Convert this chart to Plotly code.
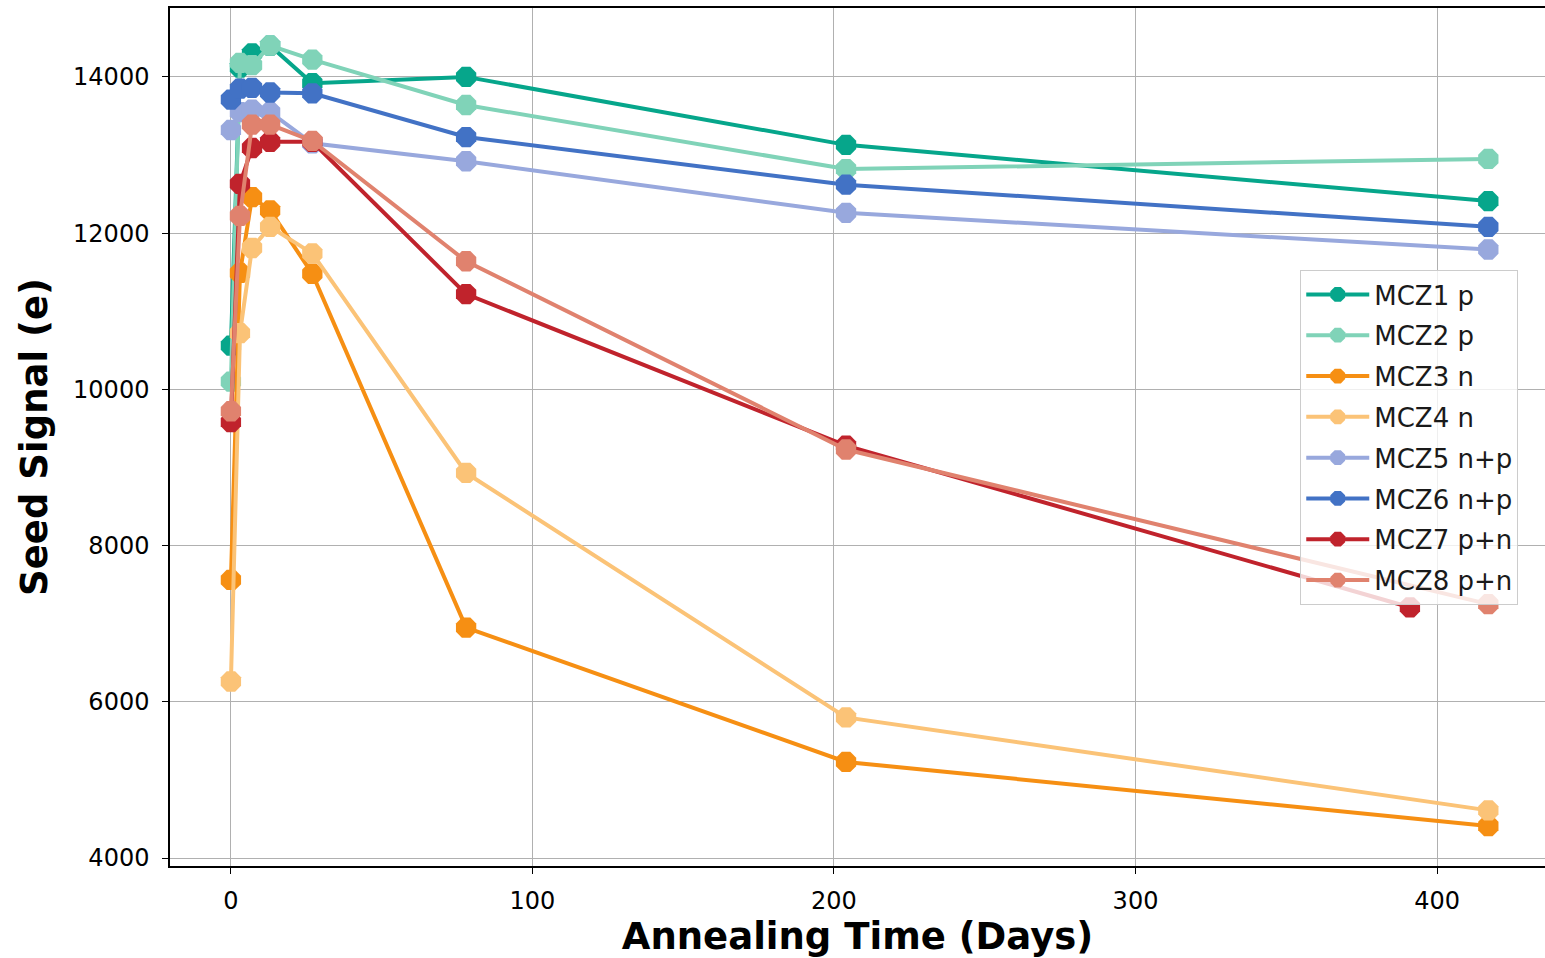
import plotly.graph_objects as go

names = ["MCZ1 p", "MCZ2 p", "MCZ3 n", "MCZ4 n", "MCZ5 n+p", "MCZ6 n+p", "MCZ7 p+n", "MCZ8 p+n"]
colors = ["#06a68b", "#80d3b8", "#f68f13", "#fbc377", "#98a8dd", "#4272c5", "#c0232c", "#e0826e"]

days_std = [0, 3, 7, 13, 27, 78, 204, 417]
days_mcz7 = [0, 3, 7, 13, 27, 78, 204, 391]

mcz1 = [10560, 14120, 14300, 14400, 13920, 14000, 13130, 12410]
mcz2 = [10100, 14180, 14150, 14400, 14220, 13640, 12820, 12950]
mcz3 = [7560, 11490, 12460, 12290, 11480, 6950, 5230, 4410]
mcz4 = [6260, 10720, 11810, 12080, 11740, 8930, 5800, 4610]
mcz5 = [13320, 13550, 13580, 13550, 13150, 12920, 12260, 11790]
mcz6 = [13710, 13850, 13860, 13800, 13790, 13230, 12620, 12080]
mcz7 = [9580, 12630, 13090, 13170, 13170, 11220, 9280, 7210]
mcz8 = [9720, 12220, 13390, 13390, 13180, 11640, 9230, 7250]

x_ticks = [0, 100, 200, 300, 400]
y_ticks = [4000, 6000, 8000, 10000, 12000, 14000]
y_ticklabels = [str(v) for v in y_ticks]

series = [mcz1, mcz2, mcz3, mcz4, mcz5, mcz6, mcz7, mcz8]
xs = [days_std] * 6 + [days_mcz7, days_std]

fig = go.Figure()
for i, (n, c, x, y) in enumerate(zip(names, colors, xs, series)):
    fig.add_trace(go.Scatter(
        x=x, y=y, name=n, mode="lines+markers",
        line=dict(color=c, width=4),
        marker=dict(symbol="octagon", size=22, color=c, line=dict(width=0)),
        legendgroup=f"g{i}",
    ))

fig.update_layout(
    width=1545, height=958,
    margin=dict(l=170, r=0, t=8, b=92),
    paper_bgcolor="white", plot_bgcolor="white",
    font=dict(family="DejaVu Sans", size=24, color="black"),
    showlegend=True,
    legend=dict(
        x=0.822, y=0.6946, xanchor="left", yanchor="top",
        bgcolor="rgba(255,255,255,0.8)", bordercolor="#cccccc", borderwidth=1,
        font=dict(size=26, color="#1a1a1a"), tracegroupgap=4,
        itemwidth=63,
    ),
    xaxis=dict(
        range=[-20.2, 435.8], tickvals=x_ticks,
        showgrid=True, gridcolor="#b0b0b0", gridwidth=1.3,
        showline=True, linecolor="black", linewidth=1.5, mirror=True,
        ticks="outside", ticklen=6, tickcolor="black", zeroline=False,
        ticklabelstandoff=6,
        title=dict(text="<b>Annealing Time (Days)</b>", font=dict(size=37), standoff=10),
    ),
    yaxis=dict(
        range=[3898, 14882], tickvals=y_ticks, ticktext=y_ticklabels,
        showgrid=True, gridcolor="#b0b0b0", gridwidth=1.3,
        showline=True, linecolor="black", linewidth=1.5, mirror=False,
        ticks="outside", ticklen=6, tickcolor="black", zeroline=False,
        ticklabelstandoff=8,
        title=dict(text="<b>Seed Signal (e)</b>", font=dict(size=37), standoff=14),
    ),
)

fig.write_html("out.html")
